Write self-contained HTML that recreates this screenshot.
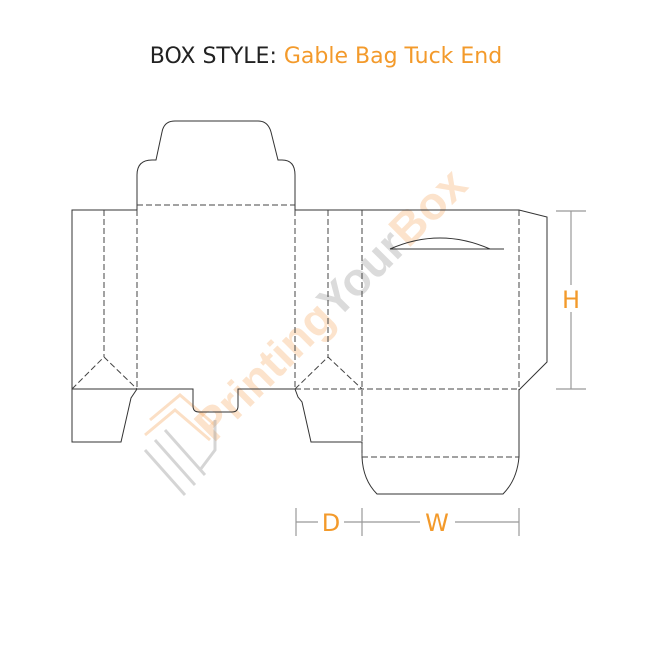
<!DOCTYPE html>
<html><head><style>
html,body{margin:0;padding:0;background:#fff;width:658px;height:658px;overflow:hidden}
svg{display:block}
</style></head><body>
<svg width="658" height="658" viewBox="0 0 658 658" xmlns="http://www.w3.org/2000/svg">
<text x="326" y="63" text-anchor="middle" font-family="'DejaVu Sans','Liberation Sans',sans-serif" font-size="22" fill="#222">BOX STYLE: <tspan fill="#f39a2b">Gable Bag Tuck End</tspan></text>
<g transform="translate(288,348) rotate(-45)" font-family="'Liberation Sans',sans-serif" font-weight="bold" font-size="46" opacity="0.35">
<text x="-120" y="15"><tspan fill="#f7b070">Printing</tspan><tspan fill="#999">Your</tspan><tspan fill="#f7b070">Box</tspan></text>
</g>
<g fill="none" stroke-width="3" opacity="0.4">
<path d="M145 435 L175 410 L210 440" stroke="#f7b070"/>
<path d="M150 420 L180 395 L215 425" stroke="#f7b070"/>
<path d="M145 450 L185 495 M155 440 L195 485 M165 430 L205 475 M200 470 L215 450 L215 420" stroke="#999"/>
</g>
<g fill="none" stroke="#333" stroke-width="1">
<path d="M137 210 L72 210 L72 442 L121 442 L131 398 L137 389"/>
<path d="M137 210 L137 175 Q137 160 152 160 L156 160 L162 132 Q164 121 175 121 L258 121 Q268 121 271 132 L278 160 L282 160 Q295 160 295 175 L295 210"/>
<path d="M72 389 L193 389 L193 406 Q193 412 199 412 L232 412 Q238 412 238 406 L238 389 L295 389"/>
<path d="M295 210 L519 210 L547 217 L547 362 L519 390"/>
<path d="M295 389 L298 397 L302 402 L311 442 L362 442 L362 457 Q363 480 377 494 L503 494 Q517 480 519 457 L519 389"/>
<path d="M390 249 L504 249 M390 249 Q440 227 490 249"/>
</g>
<g fill="none" stroke="#444" stroke-width="1" stroke-dasharray="6,3">
<path d="M137 205 L295 205"/>
<path d="M137 210 L137 389 M295 210 L295 389 M104 210 L104 357 M328 210 L328 357 M362 210 L362 457 M519 210 L519 389"/>
<path d="M72 389 L104 357 L137 389 M295 389 L328 357 L362 389"/>
<path d="M295 389 L519 389 M362 457 L519 457"/>
</g>
<g stroke="#999" stroke-width="1.2" fill="none">
<path d="M556 211 L586 211 M556 389 L586 389 M571 211 L571 285 M571 312 L571 389"/>
<path d="M296 508 L296 536 M362 508 L362 536 M519 508 L519 536 M296 522 L318 522 M344 522 L362 522 M362 522 L420 522 M455 522 L519 522"/>
</g>
<g font-family="'DejaVu Sans','Liberation Sans',sans-serif" font-size="24" fill="#f39a2b" text-anchor="middle">
<text x="571" y="308">H</text>
<text x="331" y="531">D</text>
<text x="437" y="531">W</text>
</g>
</svg>
</body></html>
